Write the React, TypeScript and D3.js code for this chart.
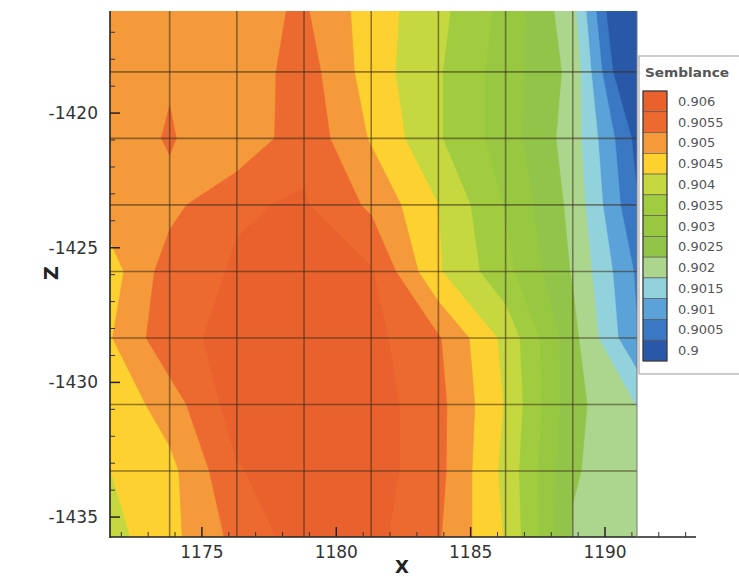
import React from "react";
import * as d3 from "d3";

// mesh nodes (X across, Z down)
const xNodes = [1171.3, 1173.8, 1176.3, 1178.8, 1181.3, 1183.8, 1186.3, 1188.8, 1191.3];
const zNodes = [-1416.0, -1418.47, -1420.94, -1423.41, -1425.88, -1428.35, -1430.82, -1433.29, -1435.76];

// semblance at each node, one row per Z node
const semblance = [
  [0.905, 0.905, 0.9051, 0.9053, 0.9045, 0.9039, 0.9031, 0.9019, 0.8985],
  [0.905, 0.9052, 0.9049, 0.9055, 0.9045, 0.9038, 0.903, 0.9021, 0.899],
  [0.9049, 0.9053, 0.9048, 0.9056, 0.9047, 0.9038, 0.903, 0.902, 0.9],
  [0.9049, 0.9051, 0.9057, 0.9058, 0.90515, 0.90425, 0.9032, 0.9021, 0.9002],
  [0.9044, 0.9055, 0.9058, 0.9059, 0.9058, 0.9043, 0.9034, 0.9022, 0.9006],
  [0.9046, 0.9056, 0.9059, 0.906, 0.9059, 0.9053, 0.9041, 0.9024, 0.9007],
  [0.9043, 0.905, 0.906, 0.9061, 0.906, 0.9054, 0.9042, 0.9024, 0.9017],
  [0.9042, 0.9046, 0.9057, 0.9061, 0.906, 0.9054, 0.9041, 0.9023, 0.9019],
  [0.904, 0.9046, 0.9054, 0.906, 0.9059, 0.9053, 0.9042, 0.9022, 0.9019],
];

const levels = [0.9, 0.9005, 0.901, 0.9015, 0.902, 0.9025, 0.903, 0.9035, 0.904, 0.9045, 0.905, 0.9055, 0.906];
const levelLabels = ["0.9", "0.9005", "0.901", "0.9015", "0.902", "0.9025", "0.903", "0.9035", "0.904", "0.9045", "0.905", "0.9055", "0.906"];
const levelColors = [
  "#2a58a8", "#3a78c4", "#5aa2d8", "#92d2dc", "#acd68e", "#92c44a", "#98c742",
  "#a2cc40", "#c6d840", "#fdd230", "#f49a3a", "#ec6930", "#e9612d",
];

const xMajor = [1175, 1180, 1185, 1190];
const zMajor = [-1420, -1425, -1430, -1435];

const W = 739;
const H = 577;
const plot = { left: 110, top: 11, right: 637, bottom: 537 };
const tickFont = "DejaVu Sans, Verdana, sans-serif";

export default function App() {
  const xScale = d3.scaleLinear().domain([1171.58, 1191.19]).range([plot.left, plot.right]);
  const zScale = d3.scaleLinear().domain([-1416.21, -1435.74]).range([plot.top, plot.bottom]);

  const nx = xNodes.length;
  const nz = zNodes.length;
  const dx = xNodes[1] - xNodes[0];
  const dz = zNodes[1] - zNodes[0];

  // one band per legend level, centred on the level (lowest band is the background)
  const thresholds = levels.slice(1).map((l) => l - 0.00025);
  const bands = d3.contours().size([nx, nz]).thresholds(thresholds)(semblance.flat());

  const proj = d3.geoTransform({
    point: function (x, y) {
      this.stream.point(xScale(xNodes[0] + (x - 0.5) * dx), zScale(zNodes[0] + (y - 0.5) * dz));
    },
  });
  const path = d3.geoPath(proj);

  const xMinor = d3.range(1172, 1194).filter((v) => v % 5 !== 0);
  const zMinor = d3.range(-1435, -1416).filter((v) => v % 5 !== 0);

  // legend
  const legendOrder = levels.map((_, i) => i).reverse();
  const legendY = d3.scaleBand().domain(legendOrder.map(String)).range([91, 361]);

  return (
    <svg width={W} height={H} style={{ position: "absolute", left: 0, top: 0, background: "#fff" }}>
      <defs>
        <clipPath id="plotClip">
          <rect x={plot.left} y={plot.top} width={plot.right - plot.left} height={plot.bottom - plot.top} />
        </clipPath>
      </defs>

      <g clipPath="url(#plotClip)">
        <rect x={plot.left} y={plot.top} width={plot.right - plot.left} height={plot.bottom - plot.top} fill={levelColors[0]} />
        {bands.map((b, i) => (
          <path key={i} d={path(b) || ""} fill={levelColors[i + 1]} stroke={levelColors[i + 1]} strokeWidth={0.6} />
        ))}
        {/* mesh lines */}
        {xNodes.slice(1, -1).map((x) => (
          <line key={"gx" + x} x1={xScale(x)} x2={xScale(x)} y1={plot.top} y2={plot.bottom}
            stroke="#3a2e1a" strokeOpacity={0.55} strokeWidth={1.6} />
        ))}
        {zNodes.slice(1, -1).map((z) => (
          <line key={"gz" + z} x1={plot.left} x2={plot.right} y1={zScale(z)} y2={zScale(z)}
            stroke="#3a2e1a" strokeOpacity={0.55} strokeWidth={1.6} />
        ))}
      </g>

      {/* frame */}
      <line x1={plot.left} x2={plot.left} y1={plot.top} y2={plot.bottom + 1} stroke="#222" strokeWidth={1.6} />
      <line x1={plot.left} x2={696} y1={plot.bottom} y2={plot.bottom} stroke="#222" strokeWidth={1.6} />
      <line x1={plot.right} x2={plot.right} y1={plot.top} y2={plot.bottom} stroke="#777" strokeWidth={1} />

      {/* x ticks */}
      {xMinor.map((v) => (
        <line key={"xm" + v} x1={xScale(v)} x2={xScale(v)} y1={plot.bottom} y2={plot.bottom - 5} stroke="#333" strokeWidth={1} />
      ))}
      {xMajor.map((v) => (
        <g key={"xt" + v}>
          <line x1={xScale(v)} x2={xScale(v)} y1={plot.bottom} y2={plot.bottom - 10} stroke="#222" strokeWidth={1.5} />
          <text x={xScale(v)} y={558} textAnchor="middle" fontFamily={tickFont} fontSize={17} fill="#333">{v}</text>
        </g>
      ))}

      {/* z ticks */}
      {zMinor.map((v) => (
        <line key={"zm" + v} x1={plot.left} x2={plot.left + 5} y1={zScale(v)} y2={zScale(v)} stroke="#333" strokeWidth={1} />
      ))}
      {zMajor.map((v) => (
        <g key={"zt" + v}>
          <line x1={plot.left} x2={plot.left + 10} y1={zScale(v)} y2={zScale(v)} stroke="#222" strokeWidth={1.5} />
          <text x={98} y={zScale(v) + 6} textAnchor="end" fontFamily={tickFont} fontSize={17} fill="#333">{v}</text>
        </g>
      ))}

      {/* axis titles */}
      <text x={402} y={573} textAnchor="middle" fontFamily={tickFont} fontWeight="bold" fontSize={18} fill="#222">X</text>
      <text transform="translate(58,273) rotate(-90)" textAnchor="middle" fontFamily={tickFont} fontWeight="bold" fontSize={19} fill="#222">Z</text>

      {/* legend */}
      <rect x={639} y={56} width={110} height={318} fill="#fff" stroke="#999" strokeWidth={1} />
      <text x={645} y={77} fontFamily={tickFont} fontWeight="bold" fontSize={12} fill="#555" textLength={84} lengthAdjust="spacingAndGlyphs">Semblance</text>
      {legendOrder.map((i) => (
        <g key={"lg" + i}>
          <rect x={643} y={legendY(String(i))} width={24} height={legendY.bandwidth()} fill={levelColors[i]} stroke="#555" strokeWidth={0.6} />
          <text x={678} y={(legendY(String(i)) || 0) + legendY.bandwidth() / 2 + 4.5} fontFamily={tickFont} fontSize={13} fill="#555">{levelLabels[i]}</text>
        </g>
      ))}
      <rect x={643} y={91} width={24} height={270} fill="none" stroke="#333" strokeWidth={1} />
    </svg>
  );
}
